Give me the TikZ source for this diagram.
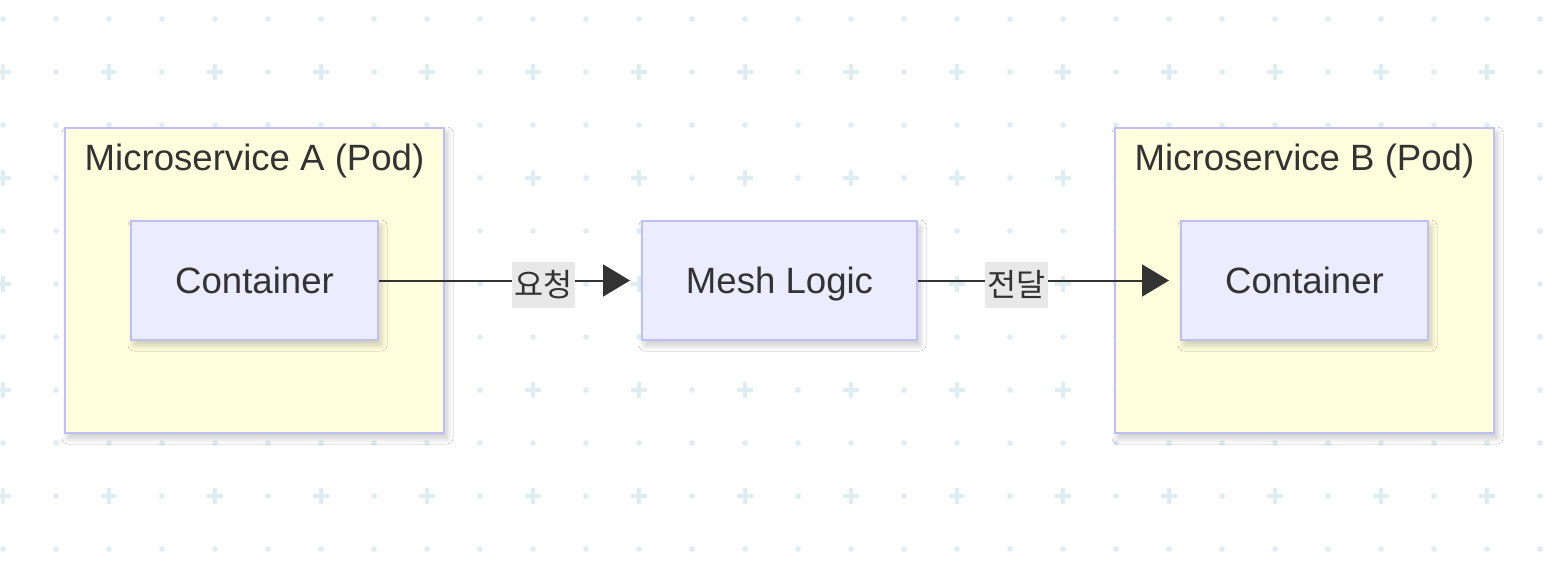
\documentclass[tikz,border=0pt]{standalone}
\usepackage{fontspec}
\setmainfont{Liberation Sans}
\newfontfamily\kr{Noto Sans CJK KR}
\usetikzlibrary{arrows.meta,shadows.blur}
\definecolor{gridc}{RGB}{222,237,241}
\definecolor{podfill}{RGB}{255,255,222}
\definecolor{boxfill}{RGB}{236,236,255}
\definecolor{boxline}{RGB}{190,190,248}
\definecolor{txt}{RGB}{51,51,51}
\definecolor{lblfill}{RGB}{232,232,232}
\tikzset{
  shd/.style={blur shadow={shadow xshift=1.5pt,shadow yshift=-2.5pt,shadow blur radius=3pt,shadow blur steps=12,shadow opacity=22}},
  pod/.style={draw=boxline,fill=podfill,line width=1pt,minimum width=189.5pt,minimum height=152.5pt,inner sep=0pt,shd},
  podtitle/.style={text=txt,font=\fontsize{18.3pt}{22pt}\selectfont,inner sep=0pt,text height=13.1pt,text depth=0pt},
  box/.style={draw=boxline,fill=boxfill,line width=1pt,minimum height=59.5pt,inner sep=0pt,text=txt,font=\fontsize{18.3pt}{22pt}\selectfont,text height=13.1pt,text depth=0pt,shd},
  arr/.style={draw=txt,line width=1pt,-{Triangle[length=13.5pt,width=16pt]}},
  lbl/.style={fill=lblfill,text=txt,font=\kr\fontsize{15.8pt}{18pt}\selectfont,inner xsep=0pt,inner ysep=0pt,minimum height=23pt,minimum width=31.5pt,yshift=-2pt}
}
\begin{document}
\begin{tikzpicture}[x=0.5pt,y=-0.5pt]
\useasboundingbox[fill=white] (0,0) rectangle (1562,578);
% background grid
\foreach \j in {0,...,10}{
  \foreach \i in {0,...,29}{
    \pgfmathtruncatemacro{\isplus}{(mod(\j,2)==1) && (mod(\i,2)==0)}
    \ifnum\isplus=1
      \draw[gridc,line width=1.6pt] ({3+53*\i-8},{19+53*\j}) -- ({3+53*\i+8},{19+53*\j})
        ({3+53*\i},{19+53*\j-8}) -- ({3+53*\i},{19+53*\j+8});
    \else
      \fill[gridc] ({3+53*\i},{19+53*\j}) circle (1.4pt);
    \fi
  }
}
% pods
\node[pod] (podA) at (254.5,280.5) {};
\node[podtitle] (titleA) at (254.5,157) {Microservice A (Pod)};
\node[pod] (podB) at (1304.5,280.5) {};
\node[podtitle] (titleB) at (1304.5,157) {Microservice B (Pod)};
% boxes
\node[box,minimum width=123.5pt] (ca) at (254.5,280.5) {Container};
\node[box,minimum width=137.5pt] (mesh) at (779.5,280.5) {Mesh Logic};
\node[box,minimum width=123.5pt] (cb) at (1304.5,280.5) {Container};
% connectors
\draw[arr] (ca.east) -- ([xshift=-5.5pt]mesh.west) node[lbl,pos=0.654] (l1) {요청};
\draw[arr] (mesh.east) -- ([xshift=-5.5pt]cb.west) node[lbl,pos=0.393] (l2) {전달};
\end{tikzpicture}
\end{document}
